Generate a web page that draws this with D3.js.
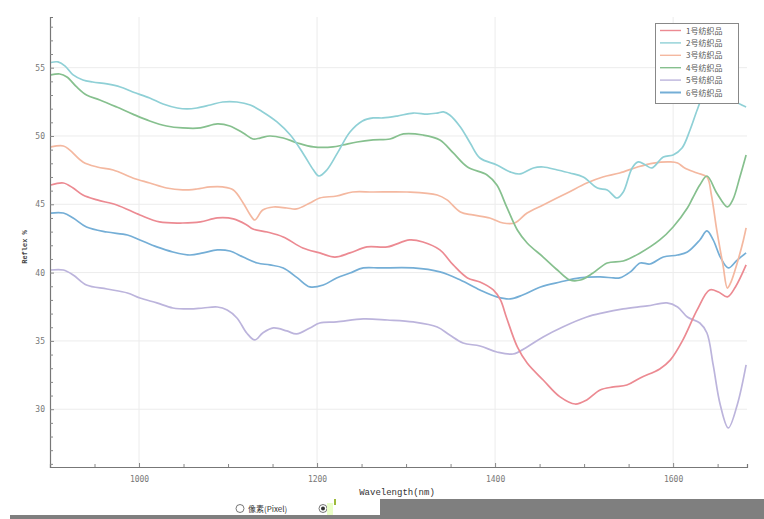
<!DOCTYPE html>
<html>
<head>
<meta charset="utf-8">
<script src="https://cdn.jsdelivr.net/npm/d3@7"></script>
<style>
  html, body { margin: 0; padding: 0; background: #fff; }
  svg { display: block; }
</style>
</head>
<body>
<svg id="chart" width="764" height="519"></svg>
<script>
// ---------------- data ----------------
const seriesNames = ["1号纺织品", "2号纺织品", "3号纺织品", "4号纺织品", "5号纺织品", "6号纺织品"];
const seriesColors = ["#ec8a92", "#8fd0d6", "#f4b8a0", "#86c08e", "#bcb4dc", "#74aed6"];

const xTickValues = [1000, 1200, 1400, 1600];
const yTickValues = [30, 35, 40, 45, 50, 55];
const xLabel = "Wavelength(nm)";
const yLabel = "Reflex %";

// [wavelength nm, reflectance %]
const s1 = [[901,46.41],[915,46.56],[926,46.19],[937,45.68],[953,45.32],[975,44.95],[1001,44.22],[1023,43.71],[1049,43.63],[1069,43.71],[1088,44.0],[1106,43.93],[1121,43.49],[1128,43.19],[1144,42.97],[1162,42.61],[1184,41.80],[1203,41.44],[1220,41.14],[1237,41.44],[1256,41.88],[1279,41.88],[1304,42.39],[1319,42.24],[1338,41.66],[1353,40.56],[1369,39.61],[1383,39.31],[1398,38.73],[1406,38.0],[1413,36.68],[1425,34.56],[1436,33.38],[1454,32.14],[1473,30.90],[1490,30.38],[1503,30.68],[1518,31.41],[1533,31.63],[1548,31.77],[1563,32.29],[1585,32.95],[1597,33.61],[1611,35.07],[1627,37.27],[1641,38.73],[1651,38.58],[1661,38.22],[1670,38.95],[1682,40.56]];
const s2 = [[901,55.38],[909,55.42],[917,55.12],[926,54.47],[937,54.1],[948,53.95],[964,53.81],[979,53.59],[993,53.22],[1012,52.78],[1027,52.34],[1043,52.05],[1054,51.98],[1065,52.05],[1080,52.27],[1094,52.49],[1110,52.49],[1125,52.27],[1139,51.76],[1155,51.03],[1170,50.07],[1184,48.76],[1196,47.51],[1202,47.07],[1211,47.51],[1223,48.76],[1237,50.29],[1251,51.1],[1263,51.32],[1274,51.32],[1290,51.46],[1308,51.68],[1324,51.6],[1335,51.68],[1342,51.76],[1349,51.54],[1361,50.66],[1372,49.49],[1383,48.39],[1402,47.88],[1417,47.37],[1428,47.22],[1443,47.66],[1454,47.73],[1470,47.51],[1484,47.29],[1499,47.0],[1515,46.19],[1526,46.05],[1537,45.46],[1544,45.9],[1554,47.66],[1561,48.1],[1569,47.88],[1576,47.66],[1589,48.46],[1600,48.61],[1610,49.12],[1619,50.44],[1627,51.9],[1634,53.0],[1644,53.66],[1655,53.37],[1667,52.64],[1682,52.12]];
const s3 = [[901,49.2],[915,49.27],[922,48.98],[937,48.10],[953,47.73],[971,47.51],[993,46.93],[1012,46.56],[1031,46.19],[1049,46.05],[1065,46.12],[1080,46.27],[1094,46.27],[1106,46.05],[1117,45.10],[1125,44.22],[1130,43.85],[1139,44.58],[1151,44.80],[1166,44.73],[1177,44.66],[1192,45.10],[1203,45.46],[1222,45.61],[1240,45.90],[1263,45.90],[1301,45.90],[1335,45.68],[1346,45.32],[1361,44.44],[1375,44.22],[1394,44.0],[1409,43.63],[1422,43.63],[1436,44.36],[1454,44.95],[1481,45.83],[1503,46.56],[1521,47.0],[1540,47.29],[1560,47.73],[1578,48.02],[1597,48.10],[1605,48.02],[1613,47.66],[1627,47.29],[1638,47.0],[1643,45.68],[1649,43.12],[1656,40.56],[1661,38.87],[1665,39.31],[1672,40.71],[1679,42.39],[1682,43.27]];
const s4 = [[901,54.47],[911,54.54],[919,54.32],[930,53.59],[941,53.0],[956,52.64],[975,52.12],[993,51.6],[1012,51.1],[1031,50.73],[1049,50.59],[1069,50.59],[1088,50.88],[1102,50.73],[1117,50.22],[1128,49.78],[1136,49.85],[1147,50.0],[1162,49.85],[1178,49.49],[1196,49.2],[1218,49.2],[1229,49.34],[1245,49.56],[1263,49.71],[1282,49.78],[1297,50.15],[1319,50.07],[1338,49.71],[1353,48.76],[1369,47.73],[1391,47.15],[1402,46.41],[1413,44.81],[1425,43.12],[1436,42.17],[1454,41.14],[1470,40.19],[1484,39.46],[1496,39.46],[1510,39.97],[1526,40.70],[1544,40.85],[1563,41.44],[1585,42.39],[1600,43.34],[1616,44.73],[1622,45.46],[1630,46.41],[1638,47.07],[1649,45.83],[1661,44.81],[1667,45.32],[1675,47.0],[1682,48.61]];
const s5 = [[901,40.19],[915,40.19],[926,39.83],[941,39.09],[964,38.80],[987,38.51],[1001,38.14],[1020,37.78],[1038,37.41],[1057,37.34],[1072,37.41],[1088,37.48],[1099,37.26],[1110,36.68],[1121,35.58],[1130,35.07],[1139,35.58],[1151,35.95],[1166,35.73],[1177,35.51],[1192,35.95],[1203,36.31],[1222,36.39],[1252,36.61],[1279,36.53],[1308,36.39],[1335,36.02],[1349,35.43],[1364,34.85],[1383,34.63],[1402,34.19],[1420,34.04],[1436,34.56],[1454,35.29],[1476,36.02],[1503,36.75],[1521,37.05],[1544,37.34],[1571,37.56],[1593,37.78],[1605,37.48],[1616,36.75],[1630,36.31],[1638,35.58],[1645,33.24],[1653,30.31],[1662,28.63],[1672,30.31],[1682,33.24]];
const s6 = [[901,44.36],[915,44.36],[926,44.0],[941,43.34],[964,42.97],[987,42.75],[1001,42.39],[1020,41.88],[1038,41.51],[1057,41.29],[1072,41.44],[1088,41.66],[1102,41.58],[1117,41.14],[1133,40.70],[1147,40.56],[1162,40.34],[1178,39.61],[1192,38.95],[1207,39.09],[1222,39.61],[1237,39.97],[1252,40.34],[1271,40.34],[1308,40.34],[1338,40.05],[1361,39.46],[1383,38.73],[1402,38.22],[1417,38.07],[1431,38.36],[1451,38.95],[1473,39.31],[1495,39.61],[1518,39.68],[1533,39.61],[1540,39.61],[1552,40.05],[1563,40.70],[1574,40.63],[1589,41.14],[1605,41.29],[1616,41.51],[1630,42.39],[1638,43.05],[1645,42.39],[1653,41.14],[1662,40.34],[1672,40.92],[1682,41.44]];

const seriesData = [s1, s2, s3, s4, s5, s6];
// draw order (back to front)
const drawOrder = [4, 5, 0, 2, 3, 1];

// ---------------- layout ----------------
const svg = d3.select("#chart");
const W = 764, H = 519;
const plot = { left: 50, right: 747, top: 17, bottom: 467 };

const x = d3.scaleLinear().domain([900, 1683]).range([plot.left, plot.right]);
const y = d3.scaleLinear().domain([25.77, 58.71]).range([plot.bottom, plot.top]);

// grid
const grid = svg.append("g");
grid.selectAll("line.vg").data(xTickValues).join("line")
  .attr("x1", d => x(d)).attr("x2", d => x(d))
  .attr("y1", plot.top).attr("y2", plot.bottom)
  .attr("stroke", "#ececec").attr("stroke-width", 1);
grid.selectAll("line.hg").data(yTickValues).join("line")
  .attr("x1", plot.left).attr("x2", plot.right)
  .attr("y1", d => y(d)).attr("y2", d => y(d))
  .attr("stroke", "#ececec").attr("stroke-width", 1);

// lines
const line = d3.line()
  .x(d => x(d[0])).y(d => y(d[1]))
  .curve(d3.curveCatmullRom.alpha(0.5));

const lines = svg.append("g");
drawOrder.forEach(i => {
  lines.append("path")
    .datum(seriesData[i])
    .attr("d", line)
    .attr("fill", "none")
    .attr("stroke", seriesColors[i])
    .attr("stroke-width", 1.7)
    .attr("stroke-linejoin", "round");
});

// axes
const xAxis = d3.axisBottom(x)
  .tickValues(d3.range(950, 1683, 50))
  .tickSize(-3)
  .tickFormat(d => xTickValues.includes(d) ? d : "");
const gx = svg.append("g").attr("transform", `translate(0,${plot.bottom})`).call(xAxis);
gx.select(".domain").attr("stroke", "#777").attr("stroke-width", 1.2);
gx.selectAll(".tick line").attr("stroke", "#888").attr("y2", d => xTickValues.includes(d) ? -4 : -3);
gx.selectAll(".tick text").attr("y", 9).attr("dy", "0.71em")
  .attr("fill", "#777").style("font", "8px 'DejaVu Sans Mono', monospace");

const yAxis = d3.axisLeft(y)
  .tickValues(d3.range(26, 59, 1))
  .tickSize(-3)
  .tickFormat(d => yTickValues.includes(d) ? d : "");
const gy = svg.append("g").attr("transform", `translate(${plot.left},0)`).call(yAxis);
gy.select(".domain").attr("stroke", "#777").attr("stroke-width", 1.2);
gy.selectAll(".tick line").attr("stroke", "#888").attr("x2", d => yTickValues.includes(d) ? 4 : 3);
gy.selectAll(".tick text").attr("x", -5)
  .attr("fill", "#777").style("font", "8px 'DejaVu Sans Mono', monospace");

// axis labels
svg.append("text")
  .attr("x", 397).attr("y", 495)
  .attr("text-anchor", "middle")
  .attr("fill", "#333")
  .style("font", "9px 'Liberation Mono', monospace")
  .text(xLabel);
svg.append("text")
  .attr("transform", `translate(27,${(plot.top + plot.bottom) / 2 + 5}) rotate(-90)`)
  .attr("text-anchor", "middle")
  .attr("fill", "#444")
  .style("font", "bold 7px 'Liberation Mono', monospace")
  .text(yLabel);

// legend
const lg = svg.append("g");
lg.append("rect")
  .attr("x", 655.5).attr("y", 23.5).attr("width", 83).attr("height", 80)
  .attr("fill", "#fff").attr("stroke", "#888").attr("stroke-width", 1);
seriesNames.forEach((n, i) => {
  const yy = 30.5 + i * 12.4;
  lg.append("line")
    .attr("x1", 660).attr("x2", 681).attr("y1", yy).attr("y2", yy)
    .attr("stroke", seriesColors[i]).attr("stroke-width", i === 5 ? 2 : 1.4);
  lg.append("text")
    .attr("x", 686).attr("y", yy + 3)
    .attr("fill", "#555")
    .style("font", "8px 'Noto Sans CJK SC', sans-serif")
    .text(n);
});

// bottom strip (window controls)
svg.append("rect").attr("x", 380).attr("y", 499).attr("width", W - 380).attr("height", 20).attr("fill", "#7f7f7f");
svg.append("rect").attr("x", 10).attr("y", 515).attr("width", W - 10).attr("height", 4).attr("fill", "#7f7f7f");
svg.append("circle").attr("cx", 240).attr("cy", 508.5).attr("r", 4).attr("fill", "#fff").attr("stroke", "#555").attr("stroke-width", 0.8);
svg.append("text").attr("x", 248).attr("y", 512).attr("fill", "#333")
  .style("font", "8px 'Noto Sans CJK SC', sans-serif").text("像素(Pixel)");
svg.append("circle").attr("cx", 323).attr("cy", 508.5).attr("r", 4).attr("fill", "#fff").attr("stroke", "#555").attr("stroke-width", 0.8);
svg.append("circle").attr("cx", 323).attr("cy", 508.5).attr("r", 2).attr("fill", "#333");
svg.append("rect").attr("x", 327).attr("y", 503).attr("width", 6).attr("height", 12).attr("fill", "#eaffc8");
svg.append("rect").attr("x", 334).attr("y", 499).attr("width", 2).attr("height", 6).attr("fill", "#9dbb3a");
</script>
</body>
</html>
